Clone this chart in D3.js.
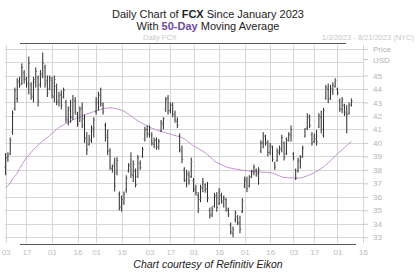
<!DOCTYPE html>
<html><head><meta charset="utf-8">
<script src="https://cdn.jsdelivr.net/npm/d3@7"></script>
<style>html,body{margin:0;padding:0;background:#fff;}svg{display:block;font-family:Arial,"Liberation Sans",sans-serif;}</style>
</head><body>
<svg id="c" width="420" height="280"></svg>
<script>
const highs = [39.25,39.3,40.4,42.4,44.1,44.8,44.9,45.9,45.4,44.9,46.4,44.5,44.9,45.6,45.0,45.4,46.7,45.8,45.0,45.0,
44.9,45.0,44.4,43.8,43.9,44.1,43.2,42.7,43.2,43.55,43.4,42.3,42.7,43.0,42.1,40.8,40.6,41.3,41.9,43.4,
43.8,44.1,43.0,41.5,41.0,39.6,38.4,38.9,38.95,36.4,36.1,36.4,37.6,38.5,39.3,38.7,38.1,39.1,38.7,39.7,
41.2,41.3,41.3,40.8,40.4,40.4,40.3,41.7,41.9,43.4,43.55,43.0,43.0,42.4,41.9,40.7,39.8,38.2,38.0,37.9,
38.9,37.4,36.9,36.35,36.9,37.4,37.0,37.1,35.2,35.3,36.3,36.35,36.65,36.3,36.1,35.9,35.2,34.1,33.8,35.0,
34.65,34.6,35.9,37.5,37.5,37.6,38.0,38.4,38.1,38.2,40.2,40.8,40.6,40.2,40.0,39.8,38.6,39.6,39.8,40.6,
40.1,40.4,40.8,41.3,39.3,38.1,38.9,39.1,39.8,41.1,42.2,42.1,40.8,40.7,40.96,42.2,42.4,42.6,44.3,44.4,
44.3,44.5,44.8,44.1,43.3,43.4,42.9,42.8,43.0,43.3];
const lows = [37.6,38.6,39.1,40.6,42.4,43.0,44.1,44.3,44.4,44.1,43.6,43.2,43.0,44.1,42.7,44.1,44.8,44.1,43.4,43.9,
43.3,43.0,42.8,42.7,42.5,43.3,41.5,41.3,41.5,41.7,42.1,41.2,41.55,41.1,40.0,39.1,39.8,40.0,40.4,42.1,
42.4,42.7,42.1,40.1,39.1,38.0,37.8,36.4,37.6,35.0,34.9,35.4,36.3,37.8,37.4,37.1,36.7,37.4,38.0,38.9,
40.1,40.4,40.4,39.8,39.6,39.5,39.5,40.8,41.0,42.3,42.1,42.2,41.9,41.5,41.1,39.3,38.5,37.1,36.7,36.9,
37.4,36.35,36.1,34.8,35.6,36.35,36.3,35.6,34.4,34.5,35.2,34.9,35.4,35.5,35.2,34.9,34.5,33.2,33.0,34.1,
33.9,33.3,34.8,36.65,36.35,36.7,37.4,37.6,37.5,36.9,39.25,39.6,39.8,39.0,39.1,38.6,38.0,38.6,39.1,39.3,
38.7,39.1,40.1,40.1,38.7,37.25,37.8,38.1,38.9,40.4,40.96,41.1,39.8,40.0,39.8,41.1,40.7,40.4,43.2,42.95,
43.2,43.55,44.1,43.55,42.3,42.2,42.0,40.7,42.1,42.7];
const opens = [38.2,38.9,39.2,40.8,42.5,43.3,44.6,44.4,45.2,44.7,44.3,44.3,43.4,44.5,44.8,44.3,45.1,45.6,44.6,44.0,
44.6,43.4,44.2,43.1,43.6,43.4,43.0,41.7,42.6,41.9,43.1,42.1,41.6,42.6,41.8,40.4,39.9,40.2,40.9,42.3,
43.0,43.6,42.8,41.3,40.6,39.4,38.1,38.5,37.8,36.2,35.2,35.6,36.5,37.9,38.4,37.6,37.9,37.5,38.5,39.0,
40.3,41.0,40.7,40.6,39.9,40.2,39.7,40.9,41.4,42.5,43.3,42.4,42.8,42.2,41.6,40.5,39.4,38.0,37.2,37.6,
37.5,37.2,36.5,36.1,35.8,36.6,36.9,36.6,35.0,34.7,35.3,36.0,35.5,36.1,35.6,35.8,35.0,33.9,33.3,34.3,
34.5,34.0,34.9,36.8,37.2,36.8,37.5,37.8,38.0,37.7,39.4,40.0,40.5,40.0,39.3,39.7,38.5,38.7,39.3,39.5,
40.0,39.2,40.2,40.6,39.2,38.0,37.9,38.6,39.0,40.5,41.1,41.9,40.6,40.1,40.3,41.2,41.9,40.6,43.3,44.0,
43.3,43.8,44.2,44.0,43.1,42.5,42.8,42.3,42.2,42.8];
const closes = [38.9,39.1,40.2,42.2,43.9,44.5,44.3,45.6,44.8,44.4,45.9,43.6,44.7,45.3,43.1,45.1,45.9,44.4,43.7,44.8,
43.5,44.7,43.0,43.5,42.8,43.9,41.8,42.4,41.9,43.2,42.3,41.4,42.5,41.3,40.3,39.5,40.3,41.1,41.7,43.2,
43.5,42.9,42.3,40.4,39.4,38.2,38.3,36.8,38.7,35.3,35.8,36.2,37.4,38.3,37.7,38.4,36.9,38.9,38.2,39.5,
41.0,40.6,41.1,40.0,40.2,39.7,40.1,41.5,41.8,43.2,42.4,42.8,42.1,41.7,41.3,39.5,38.8,37.3,37.7,37.2,
38.6,36.6,36.3,35.1,36.7,37.1,36.5,35.9,34.6,35.1,36.1,35.2,36.4,35.7,35.9,35.1,34.7,33.4,33.6,34.8,
34.1,33.6,35.7,37.3,36.6,37.4,37.9,38.2,37.7,38.0,40.0,40.6,40.0,39.3,39.8,38.8,38.2,39.4,39.6,40.4,
38.9,40.2,40.6,41.0,38.9,37.4,38.7,38.9,39.6,41.0,42.0,41.3,40.0,40.5,40.1,42.0,41.0,42.4,44.1,43.2,
44.0,44.3,44.6,43.7,42.5,43.2,42.2,42.1,42.8,43.1];
const ma50 = [36.65,36.85,37.0,37.35,37.55,37.75,38.1,38.4,38.65,38.9,39.1,39.3,39.5,39.65,39.85,40.0,40.15,40.3,40.4,40.55,
40.7,40.85,41.0,41.15,41.25,41.35,41.45,41.55,41.6,41.7,41.8,41.85,41.92,42.0,42.07,42.14,42.2,42.26,42.32,42.38,
42.43,42.48,42.53,42.57,42.59,42.6,42.59,42.56,42.52,42.48,42.43,42.34,42.24,42.12,42.0,41.88,41.76,41.64,41.53,41.44,
41.35,41.26,41.18,41.1,41.03,40.96,40.9,40.85,40.8,40.75,40.7,40.65,40.6,40.55,40.5,40.46,40.4,40.3,40.18,40.05,
39.9,39.78,39.68,39.58,39.48,39.38,39.27,39.13,38.98,38.82,38.66,38.55,38.47,38.38,38.3,38.22,38.17,38.13,38.1,38.06,
38.03,38.0,37.98,37.96,37.94,37.92,37.9,37.88,37.86,37.85,37.84,37.83,37.82,37.81,37.79,37.76,37.7,37.63,37.55,37.48,
37.44,37.42,37.41,37.4,37.4,37.39,37.39,37.4,37.44,37.5,37.56,37.63,37.71,37.8,37.89,37.98,38.1,38.23,38.37,38.52,
38.68,38.85,39.02,39.2,39.35,39.5,39.65,39.8,39.95,40.1];
const xTickDays = [0,9,20,31,39,50,62,71,81,92,103,114,124,133,143,154];
const xTickLabels = ["03","17","01","16","01","16","03","17","01","16","01","16","03","17","01","16"];
const yTickValues = [33,34,35,36,37,38,39,40,41,42,43,44,45];
const yGridValues = [33,34,35,36,37,38,39,40,41,42,43,44,45,46,47];

const svg = d3.select("#c");
const x = d3.scaleLinear().domain([0,154]).range([5.6, 363]);
const y = d3.scaleLinear().domain([33,45]).range([237.3, 75.5]);

// title
const t1 = svg.append("text").attr("x",208).attr("y",18).attr("text-anchor","middle")
  .attr("font-size",11).attr("fill","#222");
t1.append("tspan").text("Daily Chart of ");
t1.append("tspan").attr("font-weight","bold").text("FCX");
t1.append("tspan").text(" Since January 2023");
const t2 = svg.append("text").attr("x",208).attr("y",29.5).attr("text-anchor","middle")
  .attr("font-size",11).attr("fill","#222");
t2.append("tspan").text("With ");
t2.append("tspan").attr("font-weight","bold").attr("fill","#6a4c9c").text("50-Day");
t2.append("tspan").text(" Moving Average");

svg.append("text").attr("x",160).attr("y",39.5).attr("text-anchor","middle")
  .attr("font-size",7.5).attr("fill","#c8c8c8").text("Daily FCX");
svg.append("text").attr("x",414).attr("y",39.5).attr("text-anchor","end")
  .attr("font-size",7.5).attr("fill","#c8c8c8").text("1/3/2023 - 8/21/2023 (NYC)");

// grid
const g = svg.append("g");
g.selectAll("line.h").data(yGridValues).join("line")
  .attr("x1",5).attr("x2",363).attr("y1",d=>Math.round(y(d))+0.5).attr("y2",d=>Math.round(y(d))+0.5)
  .attr("stroke","#d6d6d6").attr("stroke-width",1);
g.selectAll("line.v").data(xTickDays).join("line")
  .attr("x1",d=>Math.round(x(d))+0.5).attr("x2",d=>Math.round(x(d))+0.5).attr("y1",45).attr("y2",243)
  .attr("stroke","#d6d6d6").attr("stroke-width",1);

// frame lines
svg.append("line").attr("x1",20).attr("x2",346).attr("y1",43.5).attr("y2",43.5).attr("stroke","#555").attr("stroke-width",1);
svg.append("line").attr("x1",20).attr("x2",356).attr("y1",244.5).attr("y2",244.5).attr("stroke","#555").attr("stroke-width",1);

// y axis labels
const yAx = svg.append("g").attr("transform","translate(363,0)")
  .call(d3.axisRight(y).tickValues(yTickValues).tickSize(5).tickPadding(5).tickFormat(d3.format("d")));
yAx.select(".domain").remove();
yAx.selectAll("line").attr("stroke","#c8c8c8");
yAx.selectAll("text").attr("fill","#b4b4b4").attr("font-size",8).attr("font-family","Arial, 'Liberation Sans', sans-serif");
svg.append("line").attr("x1",363).attr("x2",368).attr("y1",49.5).attr("y2",49.5).attr("stroke","#c8c8c8");
svg.append("text").attr("x",373).attr("y",52).attr("font-size",8).attr("fill","#b4b4b4").text("Price");
svg.append("line").attr("x1",363).attr("x2",368).attr("y1",59.5).attr("y2",59.5).attr("stroke","#c8c8c8");
svg.append("text").attr("x",373).attr("y",63).attr("font-size",8).attr("fill","#b4b4b4").text("USD");

// x axis labels
const xAx = svg.append("g").attr("transform","translate(0,245)")
  .call(d3.axisBottom(x).tickValues(xTickDays).tickSize(0).tickPadding(4)
    .tickFormat((d,i)=>xTickLabels[i]));
xAx.select(".domain").remove();
xAx.selectAll("text").attr("fill","#bdbdbd").attr("font-size",8).attr("font-family","Arial, 'Liberation Sans', sans-serif");

// moving average
const maLine = d3.line().x((d,i)=>x(i)).y(d=>y(d)).curve(d3.curveMonotoneX);
svg.append("path").datum(ma50).attr("d",maLine).attr("fill","none")
  .attr("stroke","#c490d2").attr("stroke-width",1);

// OHLC bars
const bars = svg.append("g");
const idx = d3.range(highs.length);
bars.selectAll("line.hl").data(idx).join("line")
  .attr("x1",i=>x(i)).attr("x2",i=>x(i)).attr("y1",i=>y(highs[i])).attr("y2",i=>y(lows[i]))
  .attr("stroke","#2a2a2a").attr("stroke-width",1);
bars.selectAll("line.o").data(idx).join("line")
  .attr("x1",i=>x(i)-1.2).attr("x2",i=>x(i)).attr("y1",i=>y(opens[i])).attr("y2",i=>y(opens[i]))
  .attr("stroke","#666").attr("stroke-width",1);
bars.selectAll("line.c").data(idx).join("line")
  .attr("x1",i=>x(i)).attr("x2",i=>x(i)+1.2).attr("y1",i=>y(closes[i])).attr("y2",i=>y(closes[i]))
  .attr("stroke","#666").attr("stroke-width",1);

svg.append("text").attr("x",208).attr("y",268).attr("text-anchor","middle")
  .attr("font-size",10.5).attr("font-style","italic").attr("fill","#222").text("Chart courtesy of Refinitiv Eikon");
</script>
</body></html>
